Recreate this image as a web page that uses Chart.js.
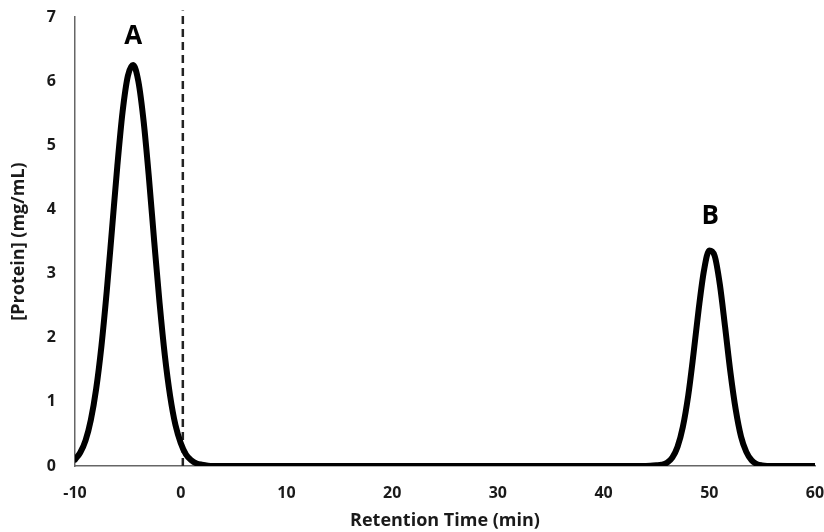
<!DOCTYPE html>
<html>
<head>
<meta charset="utf-8">
<title>Retention Time</title>
<script src="https://cdn.jsdelivr.net/npm/chart.js@4/dist/chart.umd.min.js"></script>
<style>
    html, body {
        margin: 0;
        padding: 0;
        background: #ffffff;
    }

    #wrap {
        width: 824px;
        height: 532px;
    }
</style>
</head>
<body>
<div id="wrap">
    <canvas id="proteinChart" width="824" height="532"></canvas>
</div>

<script>
// retention time (min) and protein concentration (mg/mL)
const retentionTime = [
    -10, -9.5, -9, -8.5, -8, -7.5, -7, -6.5, -6, -5.5, -5, -4.5,
    -4, -3.5, -3, -2.5, -2, -1.5, -1, -0.5, 0, 0.5, 1, 1.5, 2, 3, 4,
    10, 20, 30, 40, 44,
    45, 45.5, 46, 46.5, 47, 47.5, 48, 48.5, 49, 49.5, 50,
    50.5, 51, 51.5, 52, 52.5, 53, 53.5, 54, 54.5, 55, 56, 60
];

const protein = [
    0.10, 0.21, 0.40, 0.72, 1.20, 1.87, 2.72, 3.69, 4.67, 5.52, 6.08, 6.25,
    5.99, 5.36, 4.48, 3.49, 2.54, 1.72, 1.09, 0.64, 0.36, 0.18, 0.09, 0.04, 0.02, 0, 0,
    0, 0, 0, 0, 0,
    0.01, 0.02, 0.05, 0.13, 0.30, 0.61, 1.09, 1.74, 2.45, 3.05, 3.36,
    3.28, 2.83, 2.16, 1.46, 0.88, 0.46, 0.22, 0.09, 0.03, 0.01, 0, 0
];

// void volume marker
const markerTime = [0.2, 0.2];
const markerLevel = [0, 7.1];

// peak labels
const peakNames = ["A", "B"];
const peakTime = [-4.5, 50.1];
const peakLevel = [6.69, 3.89];

const xTicks = [-10, 0, 10, 20, 30, 40, 50, 60];
const yTicks = [0, 1, 2, 3, 4, 5, 6, 7];

const fontFamily = "'Open Sans', 'Liberation Sans', sans-serif";
const textColor = "#1a1a1a";

const trace = retentionTime.map((t, i) => ({ x: t, y: protein[i] }));
const marker = markerTime.map((t, i) => ({ x: t, y: markerLevel[i] }));

const peakLabels = {
    id: "peakLabels",
    afterDatasetsDraw(chart) {
        const { ctx, scales } = chart;
        ctx.save();
        ctx.font = "bold 26px " + fontFamily;
        ctx.fillStyle = "#000000";
        ctx.textAlign = "center";
        ctx.textBaseline = "middle";
        peakNames.forEach((name, i) => {
            ctx.fillText(name, scales.x.getPixelForValue(peakTime[i]), scales.y.getPixelForValue(peakLevel[i]));
        });
        ctx.restore();
    }
};

const ctx = document.getElementById("proteinChart");

new Chart(ctx, {
    type: "line",
    data: {
        datasets: [
            {
                data: trace,
                borderColor: "#000000",
                borderWidth: 6,
                borderCapStyle: "round",
                borderJoinStyle: "round",
                cubicInterpolationMode: "monotone",
                pointRadius: 0,
                fill: false
            },
            {
                data: marker,
                borderColor: "#222222",
                borderWidth: 2.5,
                borderDash: [8, 5],
                pointRadius: 0,
                fill: false,
                clip: false
            }
        ]
    },
    options: {
        responsive: false,
        animation: false,
        layout: {
            padding: { left: 8, right: 0, top: 0, bottom: 0 }
        },
        plugins: {
            legend: { display: false },
            tooltip: { enabled: false }
        },
        scales: {
            x: {
                type: "linear",
                min: -10,
                max: 60,
                afterBuildTicks(scale) {
                    scale.ticks = xTicks.map(v => ({ value: v }));
                },
                afterFit(scale) {
                    scale.height = 66;
                    scale.paddingRight = 9;
                },
                grid: { display: false },
                border: { display: true, color: "#666666", width: 1.5 },
                ticks: {
                    padding: 10,
                    color: textColor,
                    font: { family: fontFamily, size: 16, weight: "bold" }
                },
                title: {
                    display: true,
                    text: "Retention Time (min)",
                    color: textColor,
                    padding: { top: 2, bottom: 0 },
                    font: { family: fontFamily, size: 18, weight: "bold" }
                }
            },
            y: {
                min: 0,
                max: 7,
                afterBuildTicks(scale) {
                    scale.ticks = yTicks.map(v => ({ value: v }));
                },
                afterFit(scale) {
                    scale.width = 67;
                    scale.paddingTop = 17;
                },
                grid: { display: false },
                border: { display: true, color: "#666666", width: 1.5 },
                ticks: {
                    padding: 11,
                    color: textColor,
                    font: { family: fontFamily, size: 16, weight: "bold" }
                },
                title: {
                    display: true,
                    text: "[Protein] (mg/mL)",
                    color: textColor,
                    padding: { top: 0, bottom: 0 },
                    font: { family: fontFamily, size: 18, weight: "bold" }
                }
            }
        }
    },
    plugins: [peakLabels]
});
</script>
</body>
</html>
